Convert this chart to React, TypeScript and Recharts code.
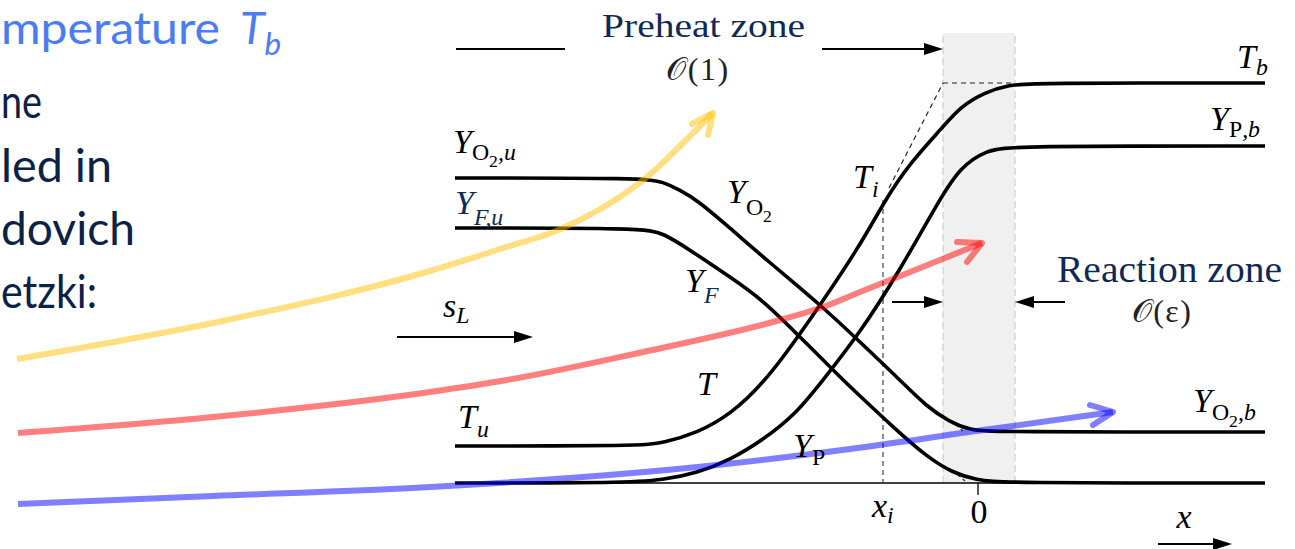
import React from 'react';
import { ComposedChart, Line, Area, Scatter, XAxis, YAxis } from 'recharts';

// Premixed flame structure (Zeldovich / Frank-Kamenetskii picture).
// x: distance in preheat-zone units, 0 at the reaction zone.
// y: profiles normalised so that the unburnt baseline is 0 and T_b is 1.

const temperature = [
  { x: -5.23, y: 0.0925 }, { x: -3.38, y: 0.0925 }, { x: -3.15, y: 0.1 }, { x: -2.81, y: 0.125 },
  { x: -2.48, y: 0.17 }, { x: -2.11, y: 0.2575 }, { x: -1.68, y: 0.4075 }, { x: -1.18, y: 0.5925 },
  { x: -0.93, y: 0.7075 }, { x: -0.68, y: 0.8 }, { x: -0.35, y: 0.89 }, { x: -0.18, y: 0.94 },
  { x: 0.07, y: 0.9775 }, { x: 0.32, y: 0.995 }, { x: 0.52, y: 1.0 }, { x: 2.87, y: 1.0 },
];

const productY = [
  { x: -5.23, y: 0 }, { x: -3.53, y: 0 }, { x: -3.15, y: 0.0075 }, { x: -2.81, y: 0.025 },
  { x: -2.48, y: 0.0575 }, { x: -2.15, y: 0.1075 }, { x: -1.81, y: 0.175 }, { x: -1.55, y: 0.2575 },
  { x: -1.18, y: 0.375 }, { x: -0.78, y: 0.5325 }, { x: -0.41, y: 0.6975 }, { x: -0.18, y: 0.79 },
  { x: 0.09, y: 0.8325 }, { x: 0.35, y: 0.8425 }, { x: 2.87, y: 0.8425 },
];

const oxygenY = [
  { x: -5.23, y: 0.7625 }, { x: -3.33, y: 0.7625 }, { x: -3.15, y: 0.7525 }, { x: -2.98, y: 0.7325 },
  { x: -2.81, y: 0.7075 }, { x: -2.48, y: 0.6375 }, { x: -2.15, y: 0.565 }, { x: -1.55, y: 0.44 },
  { x: -1.18, y: 0.3525 }, { x: -0.78, y: 0.2575 }, { x: -0.51, y: 0.19 }, { x: -0.28, y: 0.1525 },
  { x: -0.08, y: 0.1325 }, { x: 0.15, y: 0.1275 }, { x: 2.87, y: 0.1275 },
];

const fuelY = [
  { x: -5.23, y: 0.6375 }, { x: -3.35, y: 0.6375 }, { x: -3.15, y: 0.625 }, { x: -2.88, y: 0.5825 },
  { x: -2.48, y: 0.515 }, { x: -2.15, y: 0.4575 }, { x: -1.75, y: 0.3575 }, { x: -1.35, y: 0.2575 },
  { x: -1.18, y: 0.2175 }, { x: -0.85, y: 0.14 }, { x: -0.51, y: 0.065 }, { x: -0.25, y: 0.025 },
  { x: -0.01, y: 0.0075 }, { x: 0.22, y: 0 }, { x: 2.87, y: 0 },
];

// guide lines
const baseline = [{ x: -5.23, y: 0 }, { x: 2.87, y: 0 }];
const originTick = [{ x: 0, y: 0 }, { x: 0, y: -0.03 }];
const ignitionLine = [{ x: -0.95, y: 0.7075 }, { x: -0.95, y: -0.0125 }];
const tangentLine = [{ x: -0.89, y: 0.7375 }, { x: -0.35, y: 1.0 }];
const burntLevel = [{ x: -0.35, y: 1.0 }, { x: 0.37, y: 1.0 }];
const oxygenExtrap = [{ x: -0.28, y: 0.1575 }, { x: -0.15, y: 0.13 }];
const fuelExtrap = [{ x: -0.26, y: 0.0325 }, { x: -0.13, y: 0.005 }];

// reaction zone band
const reactionBand = [{ x: -0.35, y: 1.125 }, { x: 0.37, y: 1.125 }];
const bandLeftEdge = [{ x: -0.35, y: 0 }, { x: -0.35, y: 1.125 }];
const bandRightEdge = [{ x: 0.37, y: 0 }, { x: 0.37, y: 1.125 }];

// arrow shafts
const preheatLeft = [{ x: -5.22, y: 1.085 }, { x: -4.13, y: 1.085 }];
const preheatRight = [{ x: -1.56, y: 1.085 }, { x: -0.5, y: 1.085 }];
const reactionLeft = [{ x: -0.86, y: 0.4525 }, { x: -0.47, y: 0.4525 }];
const reactionRight = [{ x: 0.87, y: 0.4525 }, { x: 0.49, y: 0.4525 }];
const flameSpeed = [{ x: -5.81, y: 0.365 }, { x: -4.6, y: 0.365 }];
const xDirection = [{ x: 1.8, y: -0.1525 }, { x: 2.38, y: -0.1525 }];
const headsRight = [
  { x: -0.35, y: 1.085 }, { x: -0.35, y: 0.4525 }, { x: -4.45, y: 0.365 }, { x: 2.54, y: -0.1525 },
];
const headsLeft = [{ x: 0.37, y: 0.4525 }];

// highlight arrows
const yellowPath = [
  { x: -9.61, y: 0.31 }, { x: -7.51, y: 0.4075 }, { x: -5.48, y: 0.53 }, { x: -4.81, y: 0.5825 },
  { x: -4.15, y: 0.6375 }, { x: -3.63, y: 0.7075 }, { x: -3.31, y: 0.765 }, { x: -2.95, y: 0.85 },
  { x: -2.65, y: 0.925 },
];
const yellowHead = [{ x: -2.86, y: 0.8975 }, { x: -2.65, y: 0.925 }, { x: -2.7, y: 0.87 }];
const redPath = [
  { x: -9.6, y: 0.125 }, { x: -7.65, y: 0.165 }, { x: -5.48, y: 0.2275 }, { x: -4.71, y: 0.2575 },
  { x: -3.35, y: 0.3275 }, { x: -1.98, y: 0.4075 }, { x: -1.55, y: 0.44 }, { x: -1.18, y: 0.4775 },
  { x: -0.88, y: 0.5075 }, { x: -0.38, y: 0.5575 }, { x: 0.04, y: 0.6 },
];
const redHead = [{ x: -0.21, y: 0.6025 }, { x: 0.04, y: 0.6 }, { x: -0.11, y: 0.5525 }];
const bluePath = [
  { x: -9.6, y: -0.0525 }, { x: -7.65, y: -0.0325 }, { x: -5.48, y: -0.01 }, { x: -2.61, y: 0.045 },
  { x: -1.28, y: 0.085 }, { x: 0.05, y: 0.1325 }, { x: 1.35, y: 0.1775 },
];
const blueHead = [{ x: 1.12, y: 0.195 }, { x: 1.35, y: 0.1775 }, { x: 1.15, y: 0.145 }];

// text anchors
const labelPoints = [
  { x: -5.25, y: 0.825, id: 'YO2u' },
  { x: -5.23, y: 0.6725, id: 'YFu' },
  { x: -2.51, y: 0.7, id: 'YO2' },
  { x: -2.93, y: 0.4775, id: 'YF' },
  { x: -2.81, y: 0.22, id: 'T' },
  { x: -5.2, y: 0.1375, id: 'Tu' },
  { x: -1.85, y: 0.065, id: 'YP' },
  { x: -1.25, y: 0.7375, id: 'Ti' },
  { x: 2.59, y: 1.0375, id: 'Tb' },
  { x: 2.32, y: 0.8825, id: 'YPb' },
  { x: 2.15, y: 0.1775, id: 'YO2b' },
  { x: -1.06, y: -0.085, id: 'xi' },
  { x: 0.01, y: -0.1, id: 'zero' },
  { x: 2.06, y: -0.1125, id: 'x' },
  { x: -5.35, y: 0.415, id: 'sL' },
  { x: -3.76, y: 1.115, id: 'preheat' },
  { x: -2.8, y: 1.0075, id: 'order1' },
  { x: 0.79, y: 0.5025, id: 'reaction' },
  { x: 1.84, y: 0.4025, id: 'orderEps' },
  { x: -9.77, y: 1.0975, id: 'l1' },
  { x: -7.38, y: 1.0975, id: 'l1T' },
  { x: -9.77, y: 0.9118, id: 'l2' },
  { x: -9.77, y: 0.7533, id: 'l3' },
  { x: -9.77, y: 0.595, id: 'l4' },
  { x: -9.77, y: 0.4368, id: 'l5' },
];

const SERIF = "'Liberation Serif', 'Times New Roman', serif";
const SANS = "Lato, 'Open Sans', sans-serif";
const NAVY = '#0f2a55';
const SLIDE_NAVY = '#0c2146';
const SLIDE_BLUE = '#4a7cf5';

type Part = { t: string; lvl?: number; up?: boolean; c?: string };

function MathText(props: {
  x: number; y: number; parts: Part[]; sub?: number; color?: string; anchor?: string; size?: number; family?: string;
}) {
  const { x, y, parts, sub = 8, color = '#000', anchor = 'start', size = 34, family = SERIF } = props;
  const scale = [1, 0.7, 0.52];
  const offsets = [0, sub, sub + 7];
  let cur = 0;
  return (
    <text x={x} y={y} fontFamily={family} textAnchor={anchor as any} fill={color}>
      {parts.map((p, i) => {
        const lvl = p.lvl ?? 0;
        const dy = offsets[lvl] - cur;
        cur = offsets[lvl];
        return (
          <tspan key={i} dy={dy} fontSize={size * scale[lvl]} fontStyle={p.up ? 'normal' : 'italic'} fill={p.c}>
            {p.t}
          </tspan>
        );
      })}
    </text>
  );
}

function SlideLine(props: { x: number; y: number; text: string; width: number; color: string; size?: number }) {
  const { x, y, text, width, color, size = 47 } = props;
  return (
    <text x={x} y={y} fontFamily={SANS} fontSize={size} fill={color} textLength={width} lengthAdjust="spacingAndGlyphs">
      {text}
    </text>
  );
}

function Label(props: any) {
  const { cx, cy, payload } = props;
  const id = payload.id;
  switch (id) {
    case 'YO2u':
      return <MathText x={cx} y={cy} sub={7} parts={[{ t: 'Y' }, { t: 'O', lvl: 1, up: true }, { t: '2', lvl: 2, up: true }, { t: ',u', lvl: 1 }]} />;
    case 'YFu':
      return <MathText x={cx} y={cy} sub={11} color={NAVY} parts={[{ t: 'Y' }, { t: 'F,u', lvl: 1 }]} />;
    case 'YO2':
      return <MathText x={cx} y={cy} sub={12} parts={[{ t: 'Y' }, { t: 'O', lvl: 1, up: true }, { t: '2', lvl: 2, up: true }]} />;
    case 'YF':
      return <MathText x={cx} y={cy} sub={11} parts={[{ t: 'Y' }, { t: 'F', lvl: 1, c: NAVY }]} />;
    case 'T':
      return <MathText x={cx} y={cy} parts={[{ t: 'T' }]} />;
    case 'Tu':
      return <MathText x={cx} y={cy} sub={9} parts={[{ t: 'T' }, { t: 'u', lvl: 1 }]} />;
    case 'YP':
      return <MathText x={cx} y={cy} sub={8} parts={[{ t: 'Y' }, { t: 'P', lvl: 1, up: true }]} />;
    case 'Ti':
      return <MathText x={cx} y={cy} sub={9} parts={[{ t: 'T' }, { t: 'i', lvl: 1 }]} />;
    case 'Tb':
      return <MathText x={cx} y={cy} sub={7} parts={[{ t: 'T' }, { t: 'b', lvl: 1 }]} />;
    case 'YPb':
      return <MathText x={cx} y={cy} sub={7} parts={[{ t: 'Y' }, { t: 'P', lvl: 1, up: true }, { t: ',b', lvl: 1 }]} />;
    case 'YO2b':
      return <MathText x={cx} y={cy} sub={8} parts={[{ t: 'Y' }, { t: 'O', lvl: 1, up: true }, { t: '2', lvl: 2, up: true }, { t: ',b', lvl: 1 }]} />;
    case 'xi':
      return <MathText x={cx} y={cy} sub={6} parts={[{ t: 'x' }, { t: 'i', lvl: 1 }]} />;
    case 'zero':
      return <MathText x={cx} y={cy} anchor="middle" parts={[{ t: '0', up: true }]} />;
    case 'x':
      return <MathText x={cx} y={cy} anchor="middle" parts={[{ t: 'x' }]} />;
    case 'sL':
      return <MathText x={cx} y={cy} sub={6} parts={[{ t: 's' }, { t: 'L', lvl: 1 }]} />;
    case 'preheat':
      return (
        <text x={cx} y={cy} fontFamily={SERIF} fontSize={34} fill={NAVY} textLength={203} lengthAdjust="spacingAndGlyphs">
          Preheat zone
        </text>
      );
    case 'reaction':
      return (
        <text x={cx} y={cy} fontFamily={SERIF} fontSize={37} fill={NAVY} textLength={225} lengthAdjust="spacingAndGlyphs">
          Reaction zone
        </text>
      );
    case 'order1':
      return (
        <text x={cx} y={cy} fontFamily={SERIF} fontSize={32} fill="#222" textAnchor="middle" letterSpacing={1.5}>
          <tspan fontFamily="'DejaVu Serif', 'DejaVu Sans', serif">𝒪</tspan>(1)
        </text>
      );
    case 'orderEps':
      return (
        <text x={cx} y={cy} fontFamily={SERIF} fontSize={32} fill="#222" textAnchor="middle" letterSpacing={1.5}>
          <tspan fontFamily="'DejaVu Serif', 'DejaVu Sans', serif">𝒪</tspan>(ε)
        </text>
      );
    case 'l1':
      return <SlideLine x={cx} y={cy} text="mperature" width={219} color={SLIDE_BLUE} size={45} />;
    case 'l1T':
      return <MathText x={cx} y={cy} size={45} sub={11} family={SANS} color={SLIDE_BLUE} parts={[{ t: 'T' }, { t: 'b', lvl: 1 }]} />;
    case 'l2':
      return <SlideLine x={cx} y={cy} text="ne" width={41} color={SLIDE_NAVY} />;
    case 'l3':
      return <SlideLine x={cx} y={cy} text="led in" width={111} color={SLIDE_NAVY} />;
    case 'l4':
      return <SlideLine x={cx} y={cy} text="dovich" width={134} color={SLIDE_NAVY} />;
    case 'l5':
      return <SlideLine x={cx} y={cy} text="etzki:" width={96} color={SLIDE_NAVY} />;
    default:
      return <g />;
  }
}

function HeadRight(props: any) {
  const { cx, cy } = props;
  return <polygon points={`${cx},${cy} ${cx - 19},${cy - 6} ${cx - 19},${cy + 6}`} fill="#000" />;
}

function HeadLeft(props: any) {
  const { cx, cy } = props;
  return <polygon points={`${cx},${cy} ${cx + 19},${cy - 6} ${cx + 19},${cy + 6}`} fill="#000" />;
}

const lineBase = { type: 'linear' as const, dataKey: 'y', dot: false, activeDot: false, isAnimationActive: false, legendType: 'none' as const };

export default function App() {
  return (
    <div style={{ position: 'absolute', left: 0, top: 0, width: 1295, height: 549, background: '#fff' }}>
      <ComposedChart width={1295} height={549} margin={{ top: 0, right: 0, bottom: 0, left: 0 }}>
        <XAxis type="number" dataKey="x" domain={[-9.78, 3.17]} allowDataOverflow hide />
        <YAxis type="number" dataKey="y" domain={[-0.165, 1.2075]} allowDataOverflow hide />

        <Area data={reactionBand} dataKey="y" type="linear" baseValue={0} fill="#f0f0f0" fillOpacity={1} stroke="none" isAnimationActive={false} activeDot={false} />
        <Line {...lineBase} data={bandLeftEdge} stroke="#cdcdcd" strokeWidth={1.2} strokeDasharray="7 4" />
        <Line {...lineBase} data={bandRightEdge} stroke="#cdcdcd" strokeWidth={1.2} strokeDasharray="7 4" />

        <Line {...lineBase} data={baseline} stroke="#000" strokeWidth={1.6} />
        <Line {...lineBase} data={originTick} stroke="#000" strokeWidth={1.3} />
        <Line {...lineBase} data={ignitionLine} stroke="#444" strokeWidth={1.2} strokeDasharray="5 4" />
        <Line {...lineBase} data={tangentLine} stroke="#222" strokeWidth={1.2} strokeDasharray="5 4" />
        <Line {...lineBase} data={burntLevel} stroke="#222" strokeWidth={1.2} strokeDasharray="5 4" />
        <Line {...lineBase} data={oxygenExtrap} stroke="#333" strokeWidth={1.2} strokeDasharray="4 3" />
        <Line {...lineBase} data={fuelExtrap} stroke="#333" strokeWidth={1.2} strokeDasharray="4 3" />

        <Line {...lineBase} type="basis" data={temperature} stroke="#000" strokeWidth={3.6} />
        <Line {...lineBase} type="basis" data={productY} stroke="#000" strokeWidth={3.6} />
        <Line {...lineBase} type="basis" data={oxygenY} stroke="#000" strokeWidth={3.6} />
        <Line {...lineBase} type="basis" data={fuelY} stroke="#000" strokeWidth={3.6} />

        <Line {...lineBase} data={preheatLeft} stroke="#000" strokeWidth={2} />
        <Line {...lineBase} data={preheatRight} stroke="#000" strokeWidth={2} />
        <Line {...lineBase} data={reactionLeft} stroke="#000" strokeWidth={2} />
        <Line {...lineBase} data={reactionRight} stroke="#000" strokeWidth={2} />
        <Line {...lineBase} data={flameSpeed} stroke="#000" strokeWidth={2.2} />
        <Line {...lineBase} data={xDirection} stroke="#000" strokeWidth={2} />

        <Line {...lineBase} type="monotone" data={yellowPath} stroke="#ffc000" strokeOpacity={0.5} strokeWidth={6} />
        <Line {...lineBase} data={yellowHead} stroke="#ffc000" strokeOpacity={0.5} strokeWidth={6} strokeLinecap="round" strokeLinejoin="round" />
        <Line {...lineBase} type="monotone" data={redPath} stroke="#ff0000" strokeOpacity={0.5} strokeWidth={6} />
        <Line {...lineBase} data={redHead} stroke="#ff0000" strokeOpacity={0.5} strokeWidth={6} strokeLinecap="round" strokeLinejoin="round" />
        <Line {...lineBase} type="monotone" data={bluePath} stroke="#0000ff" strokeOpacity={0.5} strokeWidth={6} />
        <Line {...lineBase} data={blueHead} stroke="#0000ff" strokeOpacity={0.5} strokeWidth={6} strokeLinecap="round" strokeLinejoin="round" />

        <Scatter data={headsRight} shape={(p: any) => <HeadRight {...p} />} isAnimationActive={false} legendType="none" />
        <Scatter data={headsLeft} shape={(p: any) => <HeadLeft {...p} />} isAnimationActive={false} legendType="none" />
        <Scatter data={labelPoints} shape={(p: any) => <Label {...p} />} isAnimationActive={false} legendType="none" />
      </ComposedChart>
    </div>
  );
}
